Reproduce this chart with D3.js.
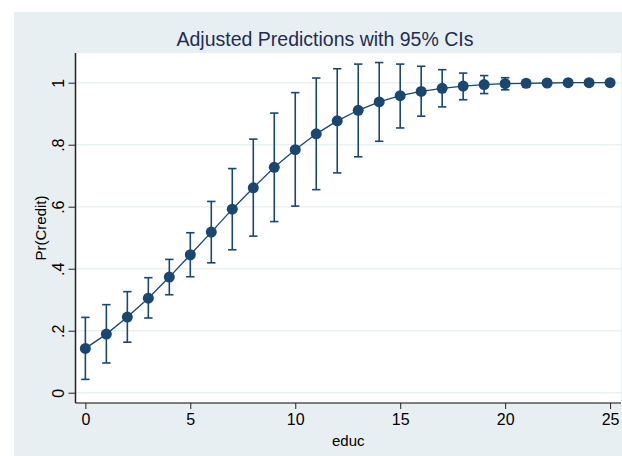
<!DOCTYPE html>
<html>
<head>
<meta charset="utf-8">
<script src="https://cdn.jsdelivr.net/npm/d3@7"></script>
<style>
    body { margin: 0; background: #fff; }
    text { font-family: "Liberation Sans", Arial, sans-serif; }
</style>
</head>
<body>
<div class="chart"></div>
<script>
// values
var educ = [0, 1, 2, 3, 4, 5, 6, 7, 8, 9, 10, 11, 12, 13, 14, 15, 16, 17, 18, 19, 20, 21, 22, 23, 24, 25];
var margin = [0.143, 0.189, 0.244, 0.305, 0.373, 0.445, 0.518, 0.592, 0.661, 0.727, 0.784, 0.835, 0.877,
    0.911, 0.938, 0.958, 0.972, 0.982, 0.989, 0.994, 0.997, 0.998, 0.999, 1.0, 1.0, 1.0];
var ciLow = [0.043, 0.096, 0.163, 0.241, 0.316, 0.374, 0.419, 0.461, 0.505, 0.552, 0.602, 0.655, 0.709,
    0.761, 0.811, 0.854, 0.892, 0.922, 0.945, 0.965, 0.977, 0.987, 0.995, 0.998, 0.999, 1.0];
var ciHigh = [0.243, 0.284, 0.326, 0.371, 0.430, 0.516, 0.617, 0.723, 0.818, 0.902, 0.968, 1.015, 1.045,
    1.060, 1.065, 1.060, 1.053, 1.042, 1.031, 1.023, 1.016, 1.008, 1.003, 1.001, 1.001, 1.0];
var xTicks = [0, 5, 10, 15, 20, 25];
var yTicks = [0, 0.2, 0.4, 0.6, 0.8, 1];
var yTickLabels = ["0", ".2", ".4", ".6", ".8", "1"];

var rows = educ.map((e, i) => ({ x: e, y: margin[i], lo: ciLow[i], hi: ciHigh[i] }));

var navy = "#1a476f";
var font = "'Liberation Sans', Arial, sans-serif";

var svg = d3.select(".chart").append("svg")
    .attr("width", 622)
    .attr("height", 456);

// graph region
svg.append("rect")
    .attr("x", 14).attr("y", 12)
    .attr("width", 608).attr("height", 444)
    .attr("fill", "#e8eff2");

var pLeft = 75.5, pRight = 621, pTop = 53, pBottom = 403;

svg.append("rect")
    .attr("x", pLeft).attr("y", pTop)
    .attr("width", pRight - pLeft).attr("height", pBottom - pTop)
    .attr("fill", "#fff");

var x = d3.scaleLinear().domain([-0.47, 25.52]).range([pLeft, pRight]);
var y = d3.scaleLinear().domain([-0.0332, 1.0958]).range([pBottom, pTop]);

// grid
svg.append("g")
    .selectAll("line")
    .data(yTicks)
    .enter()
    .append("line")
    .attr("x1", pLeft).attr("x2", pRight)
    .attr("y1", (d) => y(d)).attr("y2", (d) => y(d))
    .attr("stroke", "#eaf1f3")
    .attr("stroke-width", 1.5);

// axes
var xAxis = svg.append("g")
    .attr("transform", `translate(0,${pBottom})`)
    .call(d3.axisBottom(x).tickValues(xTicks).tickSize(6).tickPadding(5).tickFormat(d3.format("d")));
xAxis.select(".domain").attr("stroke", "#555").attr("stroke-width", 1.5).attr("d", `M${pLeft},0H${pRight}`);
xAxis.selectAll(".tick line").attr("stroke", "#222");
xAxis.selectAll(".tick text")
    .attr("fill", "#000")
    .attr("font-size", 16)
    .attr("font-family", font);

var yAxis = svg.append("g")
    .attr("transform", `translate(${pLeft},0)`)
    .call(d3.axisLeft(y).tickValues(yTicks).tickSize(7).tickFormat((d, i) => yTickLabels[i]));
yAxis.select(".domain").attr("stroke", "#222").attr("stroke-width", 1.5).attr("d", `M0,${pTop}V${pBottom}`);
yAxis.selectAll(".tick line").attr("stroke", "#222");
yAxis.selectAll(".tick text")
    .attr("fill", "#000")
    .attr("x", null).attr("dy", null)
    .attr("text-anchor", "middle")
    .attr("transform", "translate(-12,0) rotate(-90)")
    .attr("font-size", 16)
    .attr("font-family", font);

// error bars
var bars = svg.append("g").attr("stroke", navy).attr("stroke-width", 1.6);
bars.selectAll(".ci")
    .data(rows)
    .enter()
    .append("line")
    .attr("x1", (d) => x(d.x)).attr("x2", (d) => x(d.x))
    .attr("y1", (d) => y(d.lo)).attr("y2", (d) => y(d.hi));
["lo", "hi"].forEach((k) => {
    bars.selectAll(".cap-" + k)
        .data(rows)
        .enter()
        .append("line")
        .attr("x1", (d) => x(d.x) - 4.2).attr("x2", (d) => x(d.x) + 4.2)
        .attr("y1", (d) => y(d[k])).attr("y2", (d) => y(d[k]));
});

// line + markers
svg.append("path")
    .datum(rows)
    .attr("fill", "none")
    .attr("stroke", navy)
    .attr("stroke-width", 1.3)
    .attr("d", d3.line().x((d) => x(d.x)).y((d) => y(d.y)));

svg.append("g")
    .selectAll("circle")
    .data(rows)
    .enter()
    .append("circle")
    .attr("cx", (d) => x(d.x))
    .attr("cy", (d) => y(d.y))
    .attr("r", 5.5)
    .attr("fill", navy);

// titles
svg.append("text")
    .attr("x", 325).attr("y", 46)
    .attr("text-anchor", "middle")
    .attr("fill", "#1e2d53")
    .attr("font-size", 19.5)
    .text("Adjusted Predictions with 95% CIs");

svg.append("text")
    .attr("x", (pLeft + pRight) / 2).attr("y", 446)
    .attr("text-anchor", "middle")
    .attr("fill", "#000")
    .attr("font-size", 15)
    .text("educ");

svg.append("text")
    .attr("transform", `translate(46,${(pTop + pBottom) / 2}) rotate(-90)`)
    .attr("text-anchor", "middle")
    .attr("fill", "#000")
    .attr("font-size", 15)
    .text("Pr(Credit)");
</script>
</body>
</html>
